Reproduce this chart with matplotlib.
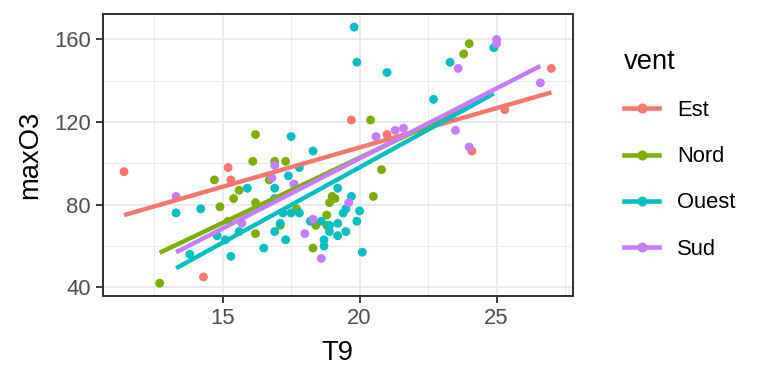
import numpy as np
import matplotlib.pyplot as plt
from matplotlib.lines import Line2D

# maxO3 ~ T9, coloured by vent
vents = ["Est", "Nord", "Ouest", "Sud"]
colors = ["#F8766D", "#7CAE00", "#00BFC4", "#C77CFF"]

t9_est = [11.4, 15.2, 14.3, 15.3, 19.7, 21.0, 27.0, 25.3, 24.1]
o3_est = [96, 98, 45, 92, 121, 114, 146, 126, 106]

t9_nord = [12.7, 14.7, 16.1, 15.6, 15.4, 16.2, 14.9, 15.2, 16.2, 16.2, 16.9, 17.3,
           16.7, 20.4, 20.8, 19.0, 20.5, 19.1, 18.9, 18.8, 18.4, 18.8, 18.3, 17.7,
           17.1, 24.0, 23.8]
o3_nord = [42, 92, 101, 87, 83, 81, 79, 72, 66, 114, 101, 101,
           92, 121, 97, 84, 84, 83, 81, 75, 70, 70, 59, 78,
           70, 158, 153]

t9_ouest = [13.3, 14.2, 13.8, 15.9, 14.8, 15.1, 15.3, 15.6, 17.5, 17.4, 17.8, 16.9,
            18.3, 19.2, 19.7, 19.5, 19.4, 20.0, 19.9, 18.2, 18.6, 19.2, 18.9, 19.5,
            19.2, 18.7, 18.7, 20.1, 16.9, 17.1, 16.9, 17.3, 16.5, 17.5, 17.2, 17.8,
            18.9, 19.8, 19.9, 21.0, 24.9, 23.3, 22.7]
o3_ouest = [76, 78, 56, 88, 65, 63, 55, 67, 113, 94, 98, 88,
            106, 88, 84, 78, 76, 77, 72, 72, 72, 71, 67, 67,
            65, 63, 60, 57, 83, 71, 67, 63, 59, 76, 76, 76,
            70, 166, 149, 144, 156, 149, 131]

t9_sud = [13.3, 15.7, 16.8, 16.9, 17.6, 20.6, 21.3, 21.6, 19.6, 18.3, 18.0, 18.6,
          25.0, 25.0, 23.6, 26.6, 23.5, 24.0]
o3_sud = [84, 71, 93, 99, 90, 113, 116, 117, 81, 73, 66, 54,
          160, 158, 146, 139, 116, 108]

groups = [(t9_est, o3_est), (t9_nord, o3_nord), (t9_ouest, o3_ouest), (t9_sud, o3_sud)]

plt.rcParams['font.family'] = ['Liberation Sans', 'DejaVu Sans']

fig = plt.figure(figsize=(8, 4), dpi=96)
ax = fig.add_axes([0.1337, 0.2292, 0.612, 0.7336])

for (x, y), c in zip(groups, colors):
    ax.scatter(x, y, s=44, color=c, edgecolors='none', zorder=3)

# lm fits per group, like geom_smooth(method="lm", se=FALSE)
for (x, y), c in zip(groups, colors):
    x = np.array(x, float)
    b, a = np.polyfit(x, y, 1)
    xx = np.array([x.min(), x.max()])
    ax.plot(xx, a + b * xx, color=c, lw=3.3, solid_capstyle='butt', zorder=4)

allx = np.concatenate([g[0] for g in groups])
ally = np.concatenate([g[1] for g in groups])
dx = (allx.max() - allx.min()) * 0.05
dy = (ally.max() - ally.min()) * 0.05
ax.set_xlim(allx.min() - dx, allx.max() + dx)
ax.set_ylim(ally.min() - dy, ally.max() + dy)

ax.set_xticks([15, 20, 25])
ax.set_xticks([12.5, 17.5, 22.5, 27.5], minor=True)
ax.set_yticks([40, 80, 120, 160])
ax.set_yticks([60, 100, 140], minor=True)
ax.grid(which='major', color='#EBEBEB', lw=1.5, zorder=0)
ax.grid(which='minor', color='#EBEBEB', lw=0.75, zorder=0)
ax.set_axisbelow(True)
for s in ax.spines.values():
    s.set_color('#333333')
    s.set_linewidth(1.5)
ax.tick_params(which='major', length=5, width=1.4, color='#333333',
               labelsize=16.5, labelcolor='#4D4D4D', pad=4)
ax.tick_params(which='minor', length=0)

ax.set_xlabel("T9", fontsize=20.5, labelpad=8)
ax.set_ylabel("maxO3", fontsize=20.5, labelpad=8)

handles = [Line2D([], [], color=c, lw=3.4, marker='o', markersize=6.5) for c in colors]
leg = fig.legend(handles, vents, title="vent", loc='upper left',
                 bbox_to_anchor=(0.787, 0.925), frameon=False, fontsize=16.5,
                 title_fontsize=20.5, handlelength=1.6, handletextpad=0.8,
                 labelspacing=1.15, alignment='left')

fig.savefig("out.png", dpi=96)
